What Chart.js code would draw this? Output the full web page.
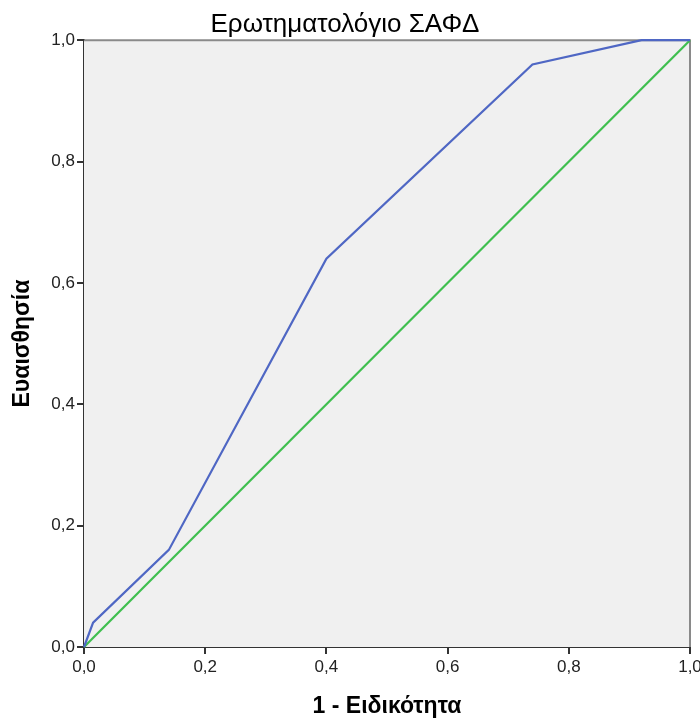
<!DOCTYPE html>
<html>
<head>
<meta charset="utf-8">
<script src="https://cdn.jsdelivr.net/npm/chart.js@4/dist/chart.umd.min.js"></script>
<style>
  html, body { margin: 0; padding: 0; background: #fff; }
  #wrap { width: 700px; height: 718px; }
</style>
</head>
<body>
<div id="wrap"><canvas id="roc" width="700" height="718"></canvas></div>
<script>
// ROC curve points
const fpr = [0, 0.015, 0.14, 0.40, 0.74, 0.92, 1.0];
const tpr = [0, 0.04, 0.16, 0.64, 0.96, 1.0, 1.0];
// reference diagonal
const refX = [0, 1];
const refY = [0, 1];
const tickValues = [0, 0.2, 0.4, 0.6, 0.8, 1.0];

const chartTitle = 'Ερωτηματολόγιο ΣΑΦΔ';
const xTitle = '1 - Ειδικότητα';
const yTitle = 'Ευαισθησία';

const toPoints = (xs, ys) => xs.map((x, i) => ({ x: x, y: ys[i] }));
const fmt = v => v.toFixed(1).replace('.', ',');

// grey plot background and the grey top / right frame
const plotFrame = {
    id: 'plotFrame',
    beforeDatasetsDraw(chart) {
        const { ctx, chartArea: a } = chart;
        ctx.save();
        ctx.fillStyle = '#f0f0f0';
        ctx.fillRect(a.left, a.top, a.right - a.left, a.bottom - a.top);
        ctx.strokeStyle = '#8a8a8a';
        ctx.lineWidth = 2;
        ctx.beginPath();
        ctx.moveTo(a.left, a.top);
        ctx.lineTo(a.right, a.top);
        ctx.lineTo(a.right, a.bottom);
        ctx.stroke();
        ctx.restore();
    }
};

const tickFont = { family: 'Arial, "Liberation Sans", sans-serif', size: 17 };
const axisTitleFont = { family: 'Arial, "Liberation Sans", sans-serif', size: 23, weight: 'bold', lineHeight: 1 };

new Chart(document.getElementById('roc'), {
    type: 'scatter',
    data: {
        datasets: [
            {
                label: 'ROC',
                data: toPoints(fpr, tpr),
                showLine: true,
                borderColor: '#4f67c4',
                borderWidth: 2.2,
                pointRadius: 0,
                fill: false,
                clip: false
            },
            {
                label: 'Reference',
                data: toPoints(refX, refY),
                showLine: true,
                borderColor: '#3fbf4f',
                borderWidth: 2.2,
                pointRadius: 0,
                fill: false,
                clip: false
            }
        ]
    },
    options: {
        responsive: false,
        animation: false,
        layout: { padding: { top: 0, right: 10, bottom: 0, left: 0 } },
        plugins: {
            legend: { display: false },
            tooltip: { enabled: false },
            title: {
                display: true,
                text: chartTitle,
                color: '#000',
                font: { family: 'Arial, "Liberation Sans", sans-serif', size: 26, weight: 'normal' },
                padding: { top: 9, bottom: 0 }
            }
        },
        scales: {
            x: {
                type: 'linear',
                min: 0,
                max: 1,
                afterFit: s => { s.height = 71; s.paddingLeft = 0; s.paddingRight = 0; },
                afterBuildTicks: s => { s.ticks = tickValues.map(v => ({ value: v })); },
                ticks: { callback: v => fmt(v), color: '#222', font: tickFont, padding: 3, maxRotation: 0 },
                grid: { display: true, drawOnChartArea: false, drawTicks: true, tickLength: 7, color: '#333', lineWidth: 2 },
                border: { display: true, color: '#333', width: 2 },
                title: { display: true, text: xTitle, color: '#000', font: axisTitleFont, padding: { top: 0, bottom: 0 } }
            },
            y: {
                type: 'linear',
                min: 0,
                max: 1,
                afterFit: s => { s.width = 84; s.paddingTop = 0; s.paddingBottom = 0; },
                afterBuildTicks: s => { s.ticks = tickValues.map(v => ({ value: v })); },
                ticks: { callback: v => fmt(v), color: '#222', font: tickFont, padding: 2 },
                grid: { display: true, drawOnChartArea: false, drawTicks: true, tickLength: 7, color: '#333', lineWidth: 2 },
                border: { display: true, color: '#333', width: 2 },
                title: { display: true, text: yTitle, color: '#000', font: axisTitleFont, padding: { top: 11, bottom: 0 } }
            }
        }
    },
    plugins: [plotFrame]
});
</script>
</body>
</html>
